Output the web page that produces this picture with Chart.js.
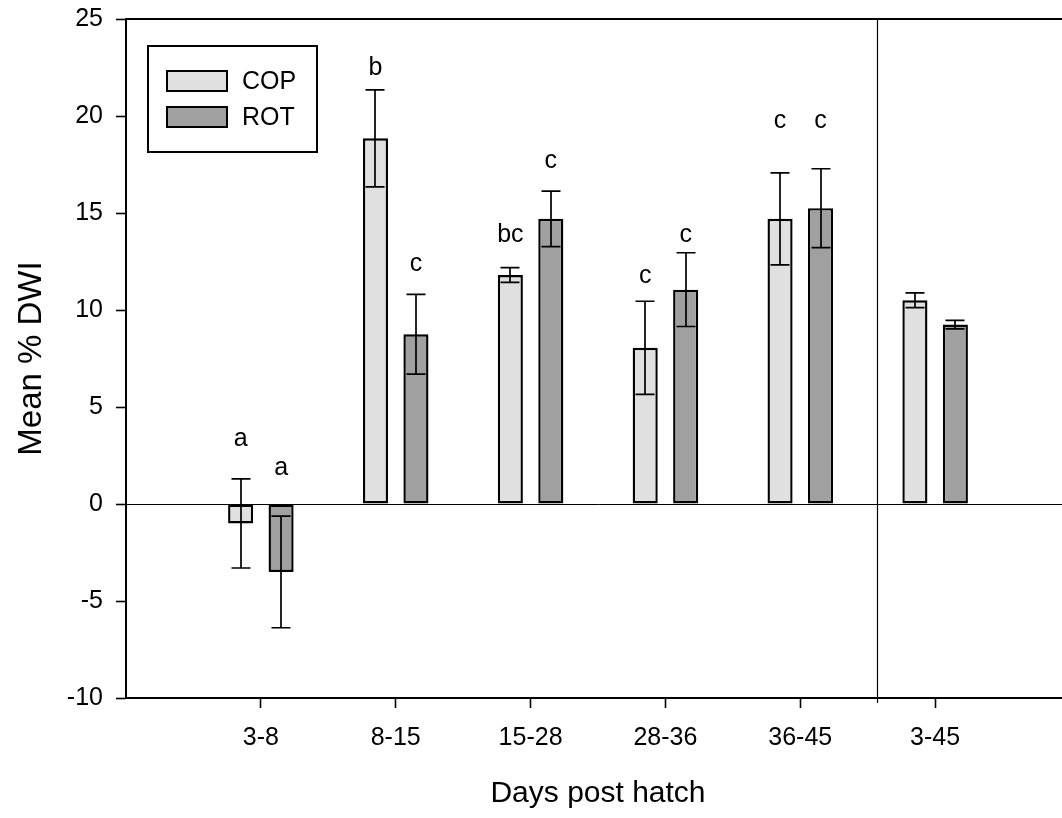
<!DOCTYPE html>
<html>
<head>
<meta charset="utf-8">
<title>Mean % DWI by days post hatch</title>
<script src="https://cdn.jsdelivr.net/npm/chart.js@4.4.1/dist/chart.umd.min.js"></script>
<style>
  html, body { margin: 0; padding: 0; background: #fff; overflow: hidden; }
  #wrap { width: 1080px; height: 818px; }
</style>
</head>
<body>
<div id="wrap"><canvas id="c" width="1080" height="818"></canvas></div>
<script>
// Age intervals (days post hatch); the last one is the whole-period summary
const categories = ['3-8', '8-15', '15-28', '28-36', '36-45', '3-45'];

// Mean % DWI and standard error, copepod-fed group
const copMean = [-1.0, 18.85, 11.8, 8.05, 14.7, 10.5];
const copErr  = [2.3, 2.5, 0.38, 2.4, 2.37, 0.38];

// Mean % DWI and standard error, rotifer-fed group
const rotMean = [-3.5, 8.75, 14.7, 11.05, 15.25, 9.25];
const rotErr  = [2.88, 2.06, 1.43, 1.9, 2.03, 0.22];

// Significance letters and the value level their baseline sits at
const copLetters = ['a', 'b', 'bc', 'c', 'c', ''];
const rotLetters = ['a', 'c', 'c', 'c', 'c', ''];
const copLetterAt = [3.0, 22.1, 13.5, 11.4, 19.4, null];
const rotLetterAt = [1.5, 12.0, 17.3, 13.5, 19.4, null];

// Y axis ticks
const yTicks = [-10, -5, 0, 5, 10, 15, 20, 25];
// Divider between the interval groups and the overall group (x units)
const splitAt = 4.57;

const FONT = "'Liberation Sans', Arial, Helvetica, sans-serif";

const errors = [copErr, rotErr];
const letters = [copLetters, rotLetters];
const letterAt = [copLetterAt, rotLetterAt];

const frame = {
  id: 'frame',
  beforeDatasetsDraw(chart) {
    const { ctx, chartArea: a, scales } = chart;
    ctx.save();
    ctx.strokeStyle = '#000';
    // top and right edges of the plot frame
    ctx.lineWidth = 2;
    ctx.beginPath();
    ctx.moveTo(a.left, a.top);
    ctx.lineTo(a.right, a.top);
    ctx.lineTo(a.right, a.bottom);
    ctx.stroke();
    // divider line
    const sx = Math.round(scales.x.getPixelForValue(splitAt)) + 0.5;
    ctx.lineWidth = 1.2;
    ctx.beginPath();
    ctx.moveTo(sx, a.top);
    ctx.lineTo(sx, a.bottom + 5);
    ctx.stroke();
    ctx.restore();
  }
};

const errorBars = {
  id: 'errorBars',
  afterDatasetsDraw(chart) {
    const { ctx, scales } = chart;
    ctx.save();
    ctx.strokeStyle = '#000';
    ctx.lineWidth = 1.7;
    chart.data.datasets.forEach((ds, di) => {
      const meta = chart.getDatasetMeta(di);
      meta.data.forEach((bar, i) => {
        const v = ds.data[i].y;
        const e = errors[di][i];
        const x = Math.round(bar.x);
        const yHi = scales.y.getPixelForValue(v + e);
        const yLo = scales.y.getPixelForValue(v - e);
        const cap = 9.5;
        ctx.beginPath();
        ctx.moveTo(x, yHi); ctx.lineTo(x, yLo);
        ctx.moveTo(x - cap, yHi); ctx.lineTo(x + cap, yHi);
        ctx.moveTo(x - cap, yLo); ctx.lineTo(x + cap, yLo);
        ctx.stroke();
      });
    });
    ctx.restore();
  }
};

const letterLabels = {
  id: 'letterLabels',
  afterDatasetsDraw(chart) {
    const { ctx, scales } = chart;
    ctx.save();
    ctx.fillStyle = '#000';
    ctx.font = '25px ' + FONT;
    ctx.textAlign = 'center';
    ctx.textBaseline = 'alphabetic';
    chart.data.datasets.forEach((ds, di) => {
      const meta = chart.getDatasetMeta(di);
      meta.data.forEach((bar, i) => {
        const t = letters[di][i];
        const lv = letterAt[di][i];
        if (!t || lv === null) return;
        ctx.fillText(t, bar.x, scales.y.getPixelForValue(lv));
      });
    });
    ctx.restore();
  }
};

const boxLegend = {
  id: 'boxLegend',
  afterDraw(chart) {
    const { ctx, chartArea: a } = chart;
    const bx = a.left + 22, by = a.top + 27, bw = 169, bh = 106;
    ctx.save();
    ctx.fillStyle = '#fff';
    ctx.fillRect(bx, by, bw, bh);
    ctx.strokeStyle = '#000';
    ctx.lineWidth = 2;
    ctx.strokeRect(bx, by, bw, bh);
    ctx.font = '25px ' + FONT;
    ctx.textAlign = 'left';
    ctx.textBaseline = 'middle';
    chart.data.datasets.forEach((ds, di) => {
      const sx = bx + 19, sy = by + 25 + di * 36, sw = 60, sh = 20;
      ctx.fillStyle = ds.backgroundColor;
      ctx.fillRect(sx, sy, sw, sh);
      ctx.lineWidth = 2;
      ctx.strokeRect(sx, sy, sw, sh);
      ctx.fillStyle = '#000';
      ctx.fillText(ds.label, sx + sw + 15, sy + sh / 2 + 1);
    });
    ctx.restore();
  }
};

new Chart(document.getElementById('c'), {
  type: 'bar',
  data: {
    datasets: [
      {
        label: 'COP',
        data: copMean.map((v, i) => ({ x: i, y: v })),
        backgroundColor: '#e0e0e0',
        borderColor: '#000',
        borderWidth: 2.4,
        borderSkipped: false
      },
      {
        label: 'ROT',
        data: rotMean.map((v, i) => ({ x: i, y: v })),
        backgroundColor: '#a0a0a0',
        borderColor: '#000',
        borderWidth: 2.4,
        borderSkipped: false
      }
    ]
  },
  options: {
    responsive: false,
    animation: false,
    events: [],
    categoryPercentage: 0.6,
    barPercentage: 0.62,
    layout: { padding: { left: 0, right: 10, top: 19, bottom: 0 } },
    plugins: { legend: { display: false }, tooltip: { enabled: false } },
    scales: {
      x: {
        type: 'linear',
        offset: false,
        min: -1,
        max: 6,
        afterFit(s) { s.height = 120; s.paddingLeft = 0; s.paddingRight = 0; },
        afterBuildTicks(s) {
          s.ticks = [];
          for (let v = -1; v <= 6; v++) s.ticks.push({ value: v });
        },
        ticks: {
          autoSkip: false,
          maxRotation: 0,
          padding: 15,
          color: '#000',
          font: { family: FONT, size: 25 },
          callback: v => categories[v] ?? ''
        },
        grid: {
          offset: false,
          drawOnChartArea: false,
          drawTicks: true,
          tickLength: 10,
          tickWidth: 1.6,
          tickColor: c => (categories[c.tick && c.tick.value] ? '#000' : 'rgba(0,0,0,0)')
        },
        border: { display: true, color: '#000', width: 2 },
        title: {
          display: true,
          text: 'Days post hatch',
          color: '#000',
          font: { family: FONT, size: 30 },
          padding: { top: 0, bottom: 6 }
        }
      },
      y: {
        min: -10,
        max: 25,
        afterFit(s) { s.width = 126; s.paddingTop = 0; s.paddingBottom = 0; },
        afterBuildTicks(s) { s.ticks = yTicks.map(v => ({ value: v })); },
        ticks: {
          padding: 13,
          color: '#000',
          font: { family: FONT, size: 25 }
        },
        grid: {
          drawOnChartArea: true,
          drawTicks: true,
          tickLength: 10,
          tickWidth: 1.6,
          tickColor: '#000',
          lineWidth: 1,
          color: c => (c.tick && c.tick.value === 0 ? '#000' : 'rgba(0,0,0,0)')
        },
        border: { display: true, color: '#000', width: 2 },
        title: {
          display: true,
          text: 'Mean % DWI',
          color: '#000',
          font: { family: FONT, size: 33 },
          padding: { top: 12, bottom: 0 }
        }
      }
    }
  },
  plugins: [frame, errorBars, letterLabels, boxLegend]
});
</script>
</body>
</html>
